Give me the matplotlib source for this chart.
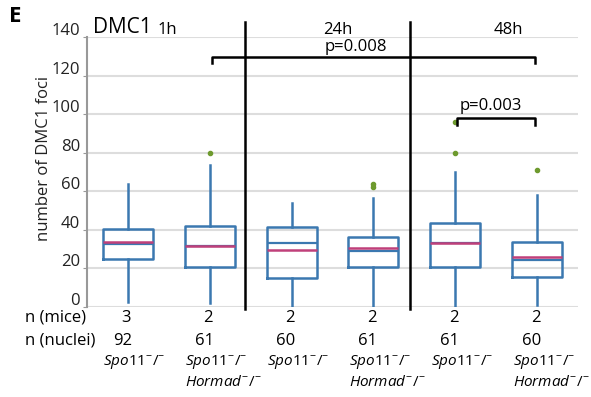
import matplotlib
matplotlib.use('Agg')
import matplotlib.pyplot as plt
from matplotlib import transforms

plt.rcParams['font.family'] = ['Open Sans', 'DejaVu Sans']
plt.rcParams['mathtext.fontset'] = 'custom'
plt.rcParams['mathtext.rm'] = 'Open Sans'
plt.rcParams['mathtext.it'] = 'Open Sans:italic'

# box statistics (number of DMC1 foci)
positions = [1, 2, 3, 4, 5, 6]
q1 = [24.7, 20.9, 15.2, 20.9, 20.9, 15.4]
q3 = [40.4, 42.2, 41.3, 36.5, 43.7, 33.9]
medians = [32.5, 31.5, 33.3, 29.0, 33.0, 24.4]
means = [33.9, 31.8, 29.6, 30.8, 33.3, 25.8]
whislo = [2.6, 2.0, 0.0, 0.5, 0.5, 1.0]
whishi = [63.8, 73.6, 54.0, 56.5, 70.0, 58.0]
fliers = [[], [80], [], [62, 64], [80, 96], [71]]

n_mice = ['3', '2', '2', '2', '2', '2']
n_nuclei = ['92', '61', '60', '61', '61', '60']
spo = r'$\mathit{Spo11}^{\mathit{-}}\mathit{/}^{\mathit{-}}$'
hor = r'$\mathit{Hormad}^{\mathit{-}}\mathit{/}^{\mathit{-}}$'
genotypes = [[spo], [spo, hor], [spo], [spo, hor], [spo], [spo, hor]]
timepoints = ['1h', '24h', '48h']

blue = '#3b78b0'
pink = '#c0407a'
green = '#6e9a2e'

fig = plt.figure(figsize=(5.91, 3.97), dpi=100)
ax = fig.add_axes([87/591, 1-307/397, 491/591, 270/397])

stats = []
for i in range(len(positions)):
    stats.append(dict(q1=q1[i], q3=q3[i], med=medians[i], mean=means[i],
                      whislo=whislo[i], whishi=whishi[i], fliers=fliers[i]))

ax.bxp(stats, positions=positions, widths=0.61, showcaps=False,
       showmeans=True, meanline=True,
       boxprops=dict(color=blue, lw=1.8),
       whiskerprops=dict(color=blue, lw=1.8),
       medianprops=dict(color=blue, lw=1.6),
       meanprops=dict(color=pink, lw=1.8, ls='-'),
       flierprops=dict(marker='o', markersize=3, markerfacecolor=green,
                       markeredgecolor=green))

ax.set_xlim(0.5, 6.5)
ax.set_ylim(0, 140)
ax.set_yticks(range(0, 141, 20))
ax.set_xticks([])
ax.yaxis.grid(True, color='#dddddd', lw=1.5)
ax.set_axisbelow(True)
for s in ['top', 'right', 'bottom']:
    ax.spines[s].set_visible(False)
ax.spines['left'].set_color('#999999')
ax.spines['left'].set_linewidth(1.5)
ax.tick_params(axis='y', labelsize=12, length=3, color='#999999', labelcolor='#222222', pad=2)
# tick labels sit a little above their grid lines
shift = transforms.ScaledTranslation(0, 8/100, fig.dpi_scale_trans)
for lab in ax.get_yticklabels():
    lab.set_transform(lab.get_transform() + shift)
ax.set_ylabel('number of DMC1 foci', fontsize=12, color='#222222')
ax.yaxis.set_label_coords(-0.072, 0.55)

# separators between time points
for xs in [2.43, 4.45]:
    ax.plot([xs, xs], [-1, 148], color='black', lw=1.8, clip_on=False)

# time labels
ax.text(0.57, 145, 'DMC1', fontsize=15, va='center', ha='left', clip_on=False)
ax.text(1.48, 143.5, timepoints[0], fontsize=12, va='center', ha='center', clip_on=False)
ax.text(3.56, 143.5, timepoints[1], fontsize=12, va='center', ha='center', clip_on=False)
ax.text(5.65, 143.5, timepoints[2], fontsize=12, va='center', ha='center', clip_on=False)

# significance brackets
ax.plot([2.03, 2.03, 5.98, 5.98], [126.5, 129.5, 129.5, 126.5], color='black', lw=1.8, clip_on=False)
ax.text(3.79, 135, 'p=0.008', fontsize=12, ha='center', va='center')
ax.plot([5.02, 5.02, 5.98, 5.98], [94.4, 98.2, 98.2, 94.4], color='black', lw=1.8)
ax.text(5.43, 104, 'p=0.003', fontsize=12, ha='center', va='center')

# table below the axis
ax.text(-0.26, -5.7, 'n (mice)', fontsize=12, ha='left', va='center', clip_on=False)
ax.text(-0.26, -17.6, 'n (nuclei)', fontsize=12, ha='left', va='center', clip_on=False)
for p, m, n, g in zip(positions, n_mice, n_nuclei, genotypes):
    ax.text(p - 0.02, -5.7, m, fontsize=12, ha='center', va='center', clip_on=False)
    ax.text(p - 0.07, -17.6, n, fontsize=12, ha='center', va='center', clip_on=False)
    for k, line in enumerate(g):
        ax.text(p - 0.3, -28.5 - 10.9*k, line, fontsize=11, ha='left', va='center',
                clip_on=False)

fig.text(15/591, 1-17/397, 'E', fontsize=16, fontweight='bold', ha='center', va='center')

fig.savefig('out.png', dpi=100)
